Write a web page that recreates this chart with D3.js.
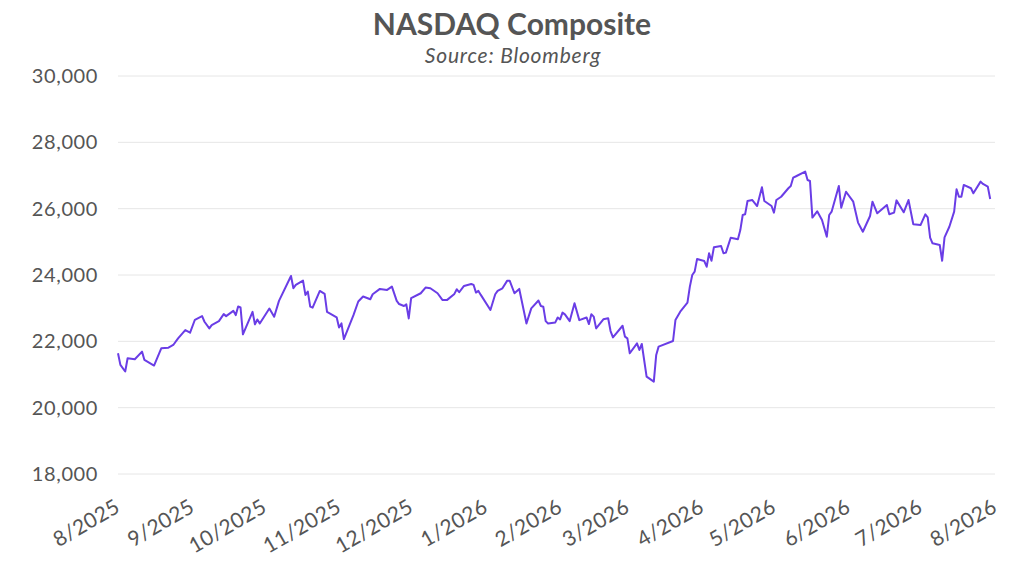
<!DOCTYPE html>
<html>
<head>
<meta charset="utf-8">
<script src="https://cdn.jsdelivr.net/npm/d3@7"></script>
<style>
  body { margin: 0; background: #fff; }
  svg text { font-family: Lato, "Open Sans", sans-serif; fill: #555; }
</style>
</head>
<body>
<svg id="chart" width="1024" height="572"></svg>
<script>
// NASDAQ Composite daily closes
const dates = [
  "2025-08-01","2025-08-02","2025-08-04","2025-08-05","2025-08-08","2025-08-11","2025-08-12","2025-08-16",
  "2025-08-19","2025-08-22","2025-08-24","2025-08-26","2025-08-29","2025-08-31","2025-09-02","2025-09-05",
  "2025-09-06","2025-09-08","2025-09-09","2025-09-12","2025-09-14","2025-09-15","2025-09-18","2025-09-19",
  "2025-09-20","2025-09-21","2025-09-22","2025-09-26","2025-09-27","2025-09-28","2025-09-29","2025-10-03",
  "2025-10-05","2025-10-07","2025-10-12","2025-10-13","2025-10-14","2025-10-17","2025-10-18","2025-10-19",
  "2025-10-20","2025-10-21","2025-10-24","2025-10-26","2025-10-27","2025-10-31","2025-11-01","2025-11-02",
  "2025-11-03","2025-11-07","2025-11-09","2025-11-11","2025-11-14","2025-11-15","2025-11-18","2025-11-21",
  "2025-11-23","2025-11-25","2025-11-26","2025-11-28","2025-11-29","2025-11-30","2025-12-01","2025-12-05",
  "2025-12-07","2025-12-09","2025-12-12","2025-12-14","2025-12-16","2025-12-19","2025-12-20","2025-12-21",
  "2025-12-23","2025-12-26","2025-12-27","2025-12-28","2025-12-29","2025-12-30","2026-01-03","2026-01-05",
  "2026-01-06","2026-01-08","2026-01-10","2026-01-11","2026-01-13","2026-01-15","2026-01-18","2026-01-20",
  "2026-01-23","2026-01-24","2026-01-25","2026-01-26","2026-01-27","2026-01-30","2026-01-31","2026-02-01",
  "2026-02-02","2026-02-03","2026-02-05","2026-02-07","2026-02-09","2026-02-12","2026-02-13","2026-02-14",
  "2026-02-15","2026-02-16","2026-02-19","2026-02-21","2026-02-22","2026-02-23","2026-02-27","2026-02-28",
  "2026-03-01","2026-03-02","2026-03-05","2026-03-06","2026-03-07","2026-03-09","2026-03-12","2026-03-13",
  "2026-03-14","2026-03-20","2026-03-21","2026-03-23","2026-03-26","2026-03-27","2026-03-28","2026-03-29",
  "2026-03-30","2026-04-02","2026-04-03","2026-04-04","2026-04-05","2026-04-06","2026-04-09","2026-04-10",
  "2026-04-11","2026-04-13","2026-04-16","2026-04-17","2026-04-18","2026-04-19","2026-04-20","2026-04-22",
  "2026-04-24","2026-04-26","2026-04-27","2026-04-30","2026-05-01","2026-05-02","2026-05-04","2026-05-07",
  "2026-05-08","2026-05-09","2026-05-10","2026-05-14","2026-05-15","2026-05-16","2026-05-17","2026-05-19",
  "2026-05-21","2026-05-23","2026-05-24","2026-05-25","2026-05-28","2026-05-29","2026-05-31","2026-06-03",
  "2026-06-05","2026-06-07","2026-06-10","2026-06-11","2026-06-13","2026-06-17","2026-06-18","2026-06-20",
  "2026-06-21","2026-06-24","2026-06-26","2026-06-28","2026-07-01","2026-07-03","2026-07-04","2026-07-05",
  "2026-07-06","2026-07-09","2026-07-10","2026-07-11","2026-07-13","2026-07-15","2026-07-16","2026-07-17",
  "2026-07-18","2026-07-19","2026-07-22","2026-07-23","2026-07-26","2026-07-27","2026-07-29","2026-07-30"
];
const closes = [
  21640,21290,21090,21490,21460,21690,21440,21270,
  21790,21810,21890,22090,22340,22260,22650,22760,
  22590,22390,22490,22610,22820,22760,22920,22790,
  23050,23020,22210,22890,22510,22660,22540,22990,
  22740,23220,23970,23600,23700,23830,23400,23500,
  23045,23015,23520,23430,22890,22725,22420,22540,
  22070,22790,23200,23350,23270,23420,23580,23550,
  23650,23220,23125,23065,23115,22690,23300,23450,
  23620,23600,23450,23250,23250,23430,23570,23480,
  23670,23730,23700,23470,23520,23400,22945,23420,
  23520,23600,23830,23830,23450,23580,22540,22995,
  23230,23065,23045,22610,22540,22570,22720,22660,
  22865,22815,22610,23150,22640,22720,22520,22815,
  22745,22390,22665,22695,22310,22120,22470,22140,
  22090,21640,21940,21740,21920,20935,20785,21590,
  21840,22010,22640,22895,23165,23650,24000,24100,
  24480,24420,24250,24655,24430,24835,24875,24655,
  24675,25125,25075,25355,25810,25830,26230,26260,
  26080,26645,26230,26080,25880,26260,26360,26615,
  26685,26935,26970,27120,26865,26835,25730,25920,
  25660,25155,25810,25910,26685,26030,26510,26210,
  25580,25305,25780,26210,25860,26110,25830,25880,
  26250,25890,26260,25530,25505,25830,25740,25125,
  24955,24905,24430,25135,25455,25910,26585,26360,
  26360,26715,26615,26465,26815,26745,26665,26290
];
const yTicks = [18000, 20000, 22000, 24000, 26000, 28000, 30000];
const xTickDates = [
  "2025-08-01","2025-09-01","2025-10-01","2025-11-01","2025-12-01","2026-01-01","2026-02-01",
  "2026-03-01","2026-04-01","2026-05-01","2026-06-01","2026-07-01","2026-08-01"
];

const parse = d3.utcParse("%Y-%m-%d");
const series = dates.map((d, i) => ({ date: parse(d), value: closes[i] }));

const svg = d3.select("#chart");
const margin = { left: 118, right: 29, top: 76, bottom: 98 };
const W = 1024, H = 572;

const x = d3.scaleUtc()
  .domain([parse(xTickDates[0]), parse(xTickDates[xTickDates.length - 1])])
  .range([margin.left, W - margin.right]);
const y = d3.scaleLinear()
  .domain([18000, 30000])
  .range([H - margin.bottom, margin.top]);

// gridlines
svg.append("g")
  .selectAll("line")
  .data(yTicks)
  .join("line")
  .attr("x1", margin.left)
  .attr("x2", W - margin.right)
  .attr("y1", d => y(d))
  .attr("y2", d => y(d))
  .attr("stroke", "#e6e6e6")
  .attr("stroke-width", 1);

// y axis labels
const yAxis = svg.append("g")
  .attr("transform", `translate(${margin.left},0)`)
  .call(d3.axisLeft(y).tickValues(yTicks).tickFormat(d3.format(",")).tickSize(0).tickPadding(20));
yAxis.select(".domain").remove();
yAxis.selectAll("text")
  .style("font-size", "20px")
  .style("letter-spacing", "0.6px")
  .attr("fill", "#5a5a5a");

// x axis labels
const xAxis = svg.append("g")
  .attr("transform", `translate(0,${H - margin.bottom})`)
  .call(d3.axisBottom(x).tickValues(xTickDates.map(parse))
    .tickFormat(d => (d.getUTCMonth() + 1) + "/" + d.getUTCFullYear())
    .tickSize(0).tickPadding(0));
xAxis.select(".domain").remove();
xAxis.selectAll("text")
  .style("font-size", "21px")
  .style("letter-spacing", "0.4px")
  .attr("fill", "#5a5a5a")
  .attr("text-anchor", "end")
  .attr("dy", "0")
  .attr("y", 0)
  .attr("transform", "translate(3,37) rotate(-30)");

// line
const line = d3.line()
  .x(d => x(d.date))
  .y(d => y(d.value));
svg.append("path")
  .datum(series)
  .attr("fill", "none")
  .attr("stroke", "#6a3de6")
  .attr("stroke-width", 2)
  .attr("stroke-linejoin", "round")
  .attr("d", line);

// title
svg.append("text")
  .attr("x", 512).attr("y", 35)
  .attr("text-anchor", "middle")
  .style("font-size", "30px")
  .style("font-weight", "bold")
  .text("NASDAQ Composite");
svg.append("text")
  .attr("x", 513).attr("y", 63)
  .attr("text-anchor", "middle")
  .style("font-size", "21px")
  .style("font-style", "italic")
  .style("letter-spacing", "0.8px")
  .text("Source: Bloomberg");
</script>
</body>
</html>
